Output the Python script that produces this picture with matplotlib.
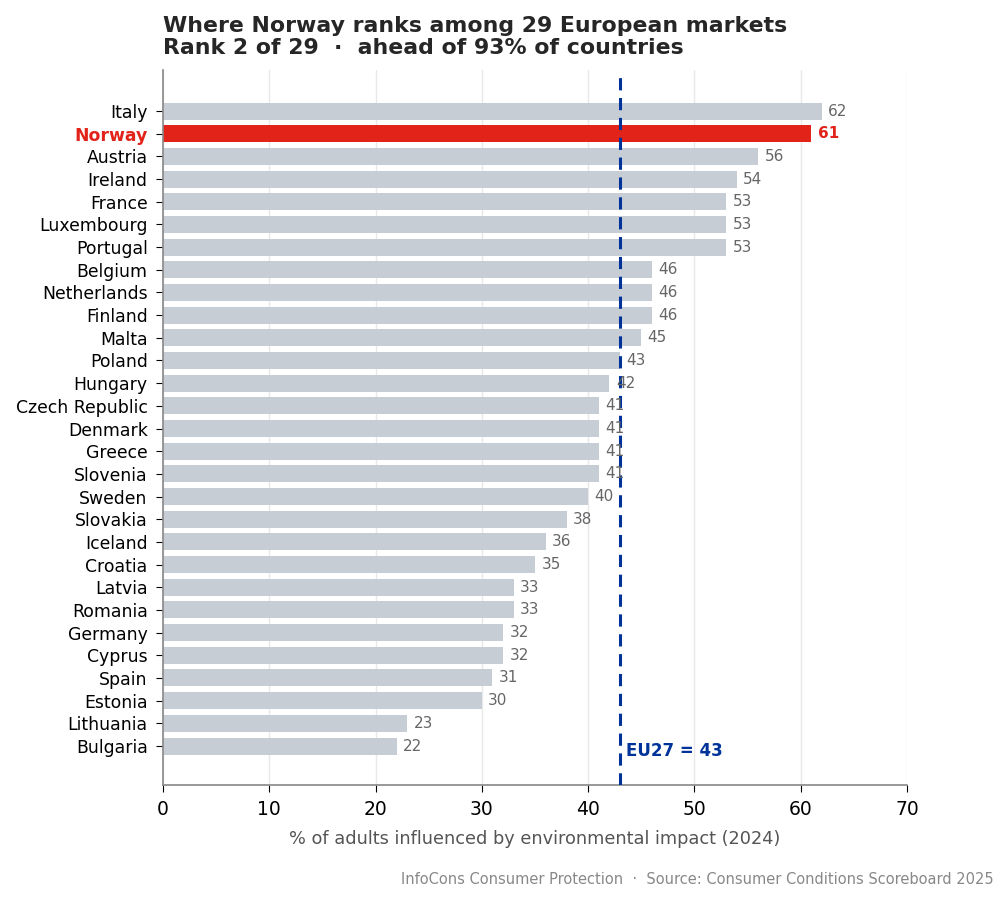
import numpy as np
import matplotlib
matplotlib.use("Agg")
from matplotlib import pyplot as plt

countries = ['Italy', 'Norway', 'Austria', 'Ireland', 'France', 'Luxembourg', 'Portugal',
             'Belgium', 'Netherlands', 'Finland', 'Malta', 'Poland', 'Hungary',
             'Czech Republic', 'Denmark', 'Greece', 'Slovenia', 'Sweden', 'Slovakia',
             'Iceland', 'Croatia', 'Latvia', 'Romania', 'Germany', 'Cyprus', 'Spain',
             'Estonia', 'Lithuania', 'Bulgaria']
values = [62, 61, 56, 54, 53, 53, 53, 46, 46, 46, 45, 43, 42, 41, 41, 41, 41, 40, 38,
          36, 35, 33, 33, 32, 32, 31, 30, 23, 22]
highlight = 'Norway'
eu_avg = 43

grey = '#c6cdd5'
red = '#e2231a'
blue = '#003399'

fig = plt.figure(figsize=(10.08, 9.02), dpi=100)
ax = fig.add_axes([0.1617, 0.1297, 0.7381, 0.7927])

y = np.arange(len(countries))
colors = [red if c == highlight else grey for c in countries]
ax.barh(y, values, height=0.75, color=colors, zorder=2)
ax.set_ylim(len(countries) - 1 + 1.72, -1.81)
ax.set_xlim(0, 70)
ax.set_yticks(y)
ax.set_yticklabels(countries, fontsize=12.4)
for lbl in ax.get_yticklabels():
    if lbl.get_text() == highlight:
        lbl.set_color(red)
        lbl.set_fontweight('bold')

for yi, v, c in zip(y, values, countries):
    if c == highlight:
        ax.text(v + 0.6, yi, str(v), va='center', ha='left', fontsize=11,
                color=red, fontweight='bold', zorder=4)
    else:
        ax.text(v + 0.6, yi, str(v), va='center', ha='left', fontsize=11,
                color='#666666', zorder=4)

ax.axvline(eu_avg, color=blue, linestyle=(0, (4, 2.5)), linewidth=2.2, zorder=3)
ax.text(eu_avg + 0.6, len(countries) - 1 + 0.2, f'EU27 = {eu_avg}', color=blue,
        fontsize=12, fontweight='bold', va='center', ha='left')

ax.set_xticks(np.arange(0, 71, 10))
ax.tick_params(axis='x', labelsize=13.5, length=5, pad=5.5)
ax.tick_params(axis='y', length=5, pad=6)
ax.grid(axis='x', color='#e8e8e8', linewidth=1, zorder=0)
ax.set_axisbelow(True)
for s in ['top', 'right']:
    ax.spines[s].set_visible(False)
for s in ['left', 'bottom']:
    ax.spines[s].set_color('#888888')
    ax.spines[s].set_linewidth(1.2)

ax.set_xlabel('% of adults influenced by environmental impact (2024)', fontsize=12.8,
              color='#555555', labelpad=8)

fig.text(0.1617, 0.936, 'Where Norway ranks among 29 European markets\n'
         'Rank 2 of 29  \u00b7  ahead of 93% of countries',
         fontsize=15.8, fontweight='bold', color='#262626', ha='left', va='bottom',
         linespacing=1.1)
fig.text(0.986, 0.025, 'InfoCons Consumer Protection  \u00b7  Source: Consumer Conditions Scoreboard 2025',
         fontsize=10.5, color='#888888', ha='right', va='center')

fig.savefig('out.png', dpi=100)
